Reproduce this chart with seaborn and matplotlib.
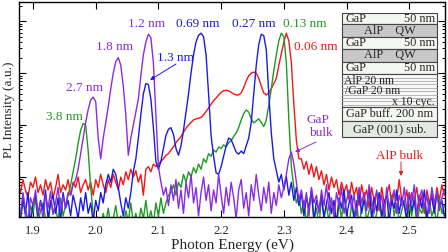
import numpy as np
import matplotlib
matplotlib.use("Agg")
import matplotlib.pyplot as plt
import seaborn as sns
from matplotlib.patches import Rectangle
from matplotlib.ticker import NullFormatter, LogLocator

# photon energy grid (eV), 4 meV steps
energy = np.round(1.876 + 0.004 * np.arange(171), 3)

# PL intensity, log10 (a.u.)
log_purple = [
    -0.45, -0.75, -0.30, -0.62, -0.85, -0.40, -0.55, -0.25, -0.70, -0.48,
    -0.80, -0.35, -0.60, -0.28, -0.72, -0.50, -0.20, -0.65, -0.38, -0.58,
    -0.30, -0.35, -0.15, -0.05, 0.15, 0.45, 0.75, 1.05, 1.30, 1.48,
    1.54, 1.45, 0.75, 0.35, 0.75, 1.05, 1.35, 1.70, 2.00, 2.22,
    2.30, 2.15, 1.75, 1.20, 0.42, 0.75, 1.00, 1.25, 1.50, 1.95,
    2.35, 2.60, 2.75, 2.68, 2.20, 1.20, 0.20, -0.10, -0.35, -0.20,
    -0.55, -0.15, -0.45, -0.05, -0.60, -0.25, -0.70, -0.10, -0.40, 0.05,
    -0.50, -0.20, -0.75, -0.30, 0.00, -0.45, -0.15, -0.65, -0.25, -0.50,
    0.05, -0.35, -0.70, -0.20, -0.55, -0.10, -0.40, -0.80, -0.25, -0.05,
    -0.60, -0.30, -0.75, -0.15, -0.45, 0.05, -0.35, -0.65, -0.20, -0.50,
    -0.10, -0.70, -0.30, -0.55, -0.15, -0.40, -0.20, 0.05, 0.35, 0.48,
    0.25, -0.10, -0.45, -0.25, -0.60, -0.30, -0.75, -0.20, -0.50, -0.35,
    -0.70, -0.25, -0.55, -0.15, -0.65, -0.40, -0.80, -0.30, -0.55, -0.20,
    -0.70, -0.45, -0.25, -0.60, -0.35, -0.75, -0.20, -0.50, -0.30, -0.65,
    -0.15, -0.45, -0.70, -0.25, -0.55, -0.35, -0.80, -0.20, -0.60, -0.40,
    -0.25, -0.70, -0.35, -0.55, -0.20, -0.65, -0.30, -0.50, -0.15, -0.75,
    -0.40, -0.25, -0.60, -0.35, -0.70, -0.20, -0.50, -0.30, -0.65, -0.40,
    -0.25,
]
log_blue = [
    -0.55, -0.85, -0.40, -0.70, -0.30, -0.90, -0.50, -0.35, -0.75, -0.45,
    -0.65, -0.25, -0.80, -0.50, -0.35, -0.70, -0.40, -0.85, -0.30, -0.60,
    -0.45, -0.75, -0.35, -0.55, -0.80, -0.40, -0.65, -0.30, -0.70, -0.50,
    -0.85, -0.45, -0.65, -0.30, -0.50, -0.15, 0.05, -0.10, 0.15, 0.05,
    -0.20, -0.50, -0.75, -0.40, -0.60, -0.30, 0.10, 0.35, 0.75, 1.20,
    1.60, 1.80, 1.78, 1.50, 0.95, 0.30, 0.15, 0.30, 0.55, 0.80,
    0.92, 0.95, 0.82, 0.55, 0.42, 0.60, 0.90, 1.25, 1.60, 2.00,
    2.35, 2.60, 2.73, 2.77, 2.70, 2.35, 1.60, 0.80, 0.40, 0.08,
    0.05, 0.20, 0.40, 0.60, 0.75, 0.72, 0.60, 0.48, 0.44, 0.50,
    0.45, 0.60, 0.75, 1.05, 1.60, 2.15, 2.55, 2.75, 2.72, 2.45,
    1.60, 0.85, 0.35, 0.12, -0.10, 0.05, -0.25, 0.00, -0.35, -0.10,
    -0.45, -0.20,
    -0.55, -0.30, -0.75, -0.40, -0.60, -0.25, -0.85, -0.45, -0.65, -0.35,
    -0.80, -0.50, -0.30, -0.70, -0.45, -0.90, -0.40, -0.60, -0.25, -0.75,
    -0.50, -0.35, -0.85, -0.55, -0.30, -0.70, -0.45, -0.60, -0.20, -0.80,
    -0.40, -0.65, -0.30, -0.75, -0.50, -0.35, -0.85, -0.45, -0.60, -0.25,
    -0.70, -0.40, -0.55, -0.80, -0.30, -0.65, -0.45, -0.75, -0.35, -0.60,
    -0.25, -0.80, -0.50, -0.40, -0.70, -0.30, -0.60, -0.45, -0.75,
]
log_green = [
    -0.60, -0.85, -0.45, -0.75, -0.95, -0.55, -0.70, -0.40, -0.90, -0.65,
    -0.50, -0.80, -0.95, -0.45, -0.70, -0.60, -0.85, -0.40, -0.75, -0.55,
    -0.35, -0.15, 0.10, 0.35, 0.65, 0.90, 1.03, 1.00, 0.50, -0.20,
    -0.70, -0.90,
    -0.85, -0.95, -0.70, -0.90, -0.60, -0.95, -0.80, -0.55, -0.90, -0.75,
    -0.95, -0.65, -0.85, -0.50, -0.90, -0.70, -0.95, -0.60, -0.80, -0.45,
    -0.85, -0.65, -0.90, -0.50, -0.75, -0.40, -0.70, -0.50, -0.35,
    -0.30, -0.15, -0.35, -0.10, -0.20, 0.05, -0.10, 0.10, 0.00, 0.18,
    0.08, 0.25, 0.15, 0.35, 0.28, 0.45, 0.40, 0.52, 0.48, 0.58,
    0.55, 0.62, 0.58, 0.66, 0.70, 0.78, 0.85, 0.95, 1.10, 1.22,
    1.29, 1.25, 1.12, 1.04, 1.08, 1.12, 1.05, 0.97, 1.10, 1.38,
    1.70, 2.05, 2.35, 2.62, 2.77, 2.70, 2.20, 1.10, 0.20, -0.20,
    -0.50,
    -0.35, -0.70, -0.45, -0.90, -0.55, -0.30, -0.80, -0.60, -0.95, -0.40,
    -0.75, -0.55, -0.85, -0.45, -0.65, -0.95, -0.50, -0.80, -0.35, -0.70,
    -0.90, -0.55, -0.75, -0.45, -0.95, -0.60, -0.40, -0.85, -0.65, -0.50,
    -0.90, -0.70, -0.45, -0.80, -0.55, -0.95, -0.60, -0.35, -0.75, -0.50,
    -0.85, -0.65, -0.45, -0.90, -0.55, -0.75, -0.40, -0.95, -0.60, -0.70,
    -0.50, -0.85, -0.45, -0.75, -0.60, -0.90, -0.40, -0.70, -0.55,
]
log_red = [
    -0.15, -0.30, -0.05, -0.25, -0.40, -0.10, -0.20, 0.00, -0.30, -0.15,
    -0.35, -0.05, -0.25, -0.10, -0.40, -0.20, 0.05, -0.30, -0.15, -0.25,
    -0.05, -0.35, -0.10, -0.20, 0.00, -0.30, -0.15, -0.05, -0.25, -0.10,
    -0.35, -0.05, -0.20, 0.05, -0.15, -0.30, -0.05, -0.20, 0.05, -0.10,
    -0.25, 0.00, -0.15, 0.10, -0.05, 0.15, 0.00, 0.12, -0.10, 0.05,
    -0.35, 0.15, 0.20, 0.10, 0.25,
    0.20, 0.25, 0.30, 0.35, 0.42, 0.45, 0.52, 0.58, 0.66, 0.72,
    0.78, 0.86, 0.94, 1.00, 1.05, 1.10, 1.12, 1.13, 1.15, 1.20,
    1.26, 1.33, 1.40, 1.47, 1.52, 1.58, 1.63, 1.66, 1.67, 1.66,
    1.63, 1.60, 1.58, 1.58, 1.62, 1.72, 1.85, 1.95, 2.00, 2.02,
    2.00, 1.90, 1.75, 1.62, 1.58, 1.62, 1.70, 1.80, 1.90, 2.15,
    2.38, 2.60, 2.77, 2.62, 2.20, 1.40, 0.70, 0.35,
    0.35, 0.15, 0.30, 0.05, 0.25, 0.00, 0.20, -0.05, 0.12, -0.15,
    0.05, -0.25, 0.00, -0.20, -0.05, -0.35, -0.10, -0.30, -0.15, -0.45,
    -0.10, -0.35, -0.20, -0.55, -0.15, -0.40, -0.25, -0.60, -0.20, -0.45,
    -0.30, -0.65, -0.20, -0.50, -0.35, -0.15, -0.55, -0.30, -0.45, -0.05,
    -0.45, -0.50, -0.25, -0.65, -0.30, -0.45, -0.20, -0.60, -0.35, -0.70,
    -0.25, -0.50, -0.30, -0.65, -0.20, -0.45, -0.15, -0.35,
]
for arr in (log_purple, log_blue, log_green, log_red):
    assert len(arr) == len(energy), len(arr)

x_ticks = [1.9, 2.0, 2.1, 2.2, 2.3, 2.4, 2.5]

PURPLE = "#8a2be2"
BLUE = "#1a1ae6"
GREEN = "#1e9a1e"
RED = "#f01818"

W, H = 448, 252


def fp(x, y):
    # figure pixel (top-left origin) -> figure fraction
    return x / W, 1 - y / H


sns.set_style("ticks")
plt.rcParams["font.family"] = ["Liberation Serif", "DejaVu Serif"]

fig = plt.figure(figsize=(W / 100, H / 100), dpi=100)
ax = fig.add_axes([19 / W, 1 - 217 / H, (445 - 19) / W, (217 - 2) / H])

for arr, col in ((log_red, RED), (log_green, GREEN), (log_blue, BLUE), (log_purple, PURPLE)):
    sns.lineplot(x=energy, y=10 ** np.array(arr), color=col, lw=1.0, ax=ax, legend=False)

ax.set_yscale("log")
ax.set_xlim(1.8777, 2.557)
ax.set_ylim(10 ** -0.77, 10 ** 3.37)
ax.set_xticks(x_ticks)
ax.set_xticklabels([f"{t:.1f}" for t in x_ticks], fontsize=9)
ax.yaxis.set_major_locator(LogLocator(base=10))
ax.yaxis.set_minor_locator(LogLocator(base=10, subs=np.arange(2, 10)))
ax.yaxis.set_major_formatter(NullFormatter())
ax.yaxis.set_minor_formatter(NullFormatter())
ax.tick_params(which="both", direction="in", top=True, right=True, color="black")
ax.tick_params(which="major", length=5, width=0.8, pad=6)
ax.tick_params(which="minor", length=2.5, width=0.7)
ax.xaxis.set_minor_locator(plt.NullLocator())
for s in ax.spines.values():
    s.set_linewidth(1.0)
    s.set_color("black")

ax.set_xlabel("Photon Energy (eV)", fontsize=11, labelpad=1)
ax.set_ylabel("PL Intensity (a.u.)", fontsize=9.5)
ax.yaxis.set_label_coords((15 - 19) / 426, 0.5)

# peak labels
labels = [
    ("3.8 nm", GREEN, 64, 117), ("2.7 nm", PURPLE, 84, 88), ("1.8 nm", PURPLE, 115, 47),
    ("1.2 nm", PURPLE, 147, 24), ("1.3 nm", BLUE, 175, 58), ("0.69 nm", BLUE, 198, 24),
    ("0.27 nm", BLUE, 254, 24), ("0.13 nm", GREEN, 305, 24), ("0.06 nm", RED, 316, 47),
    ("GaP", PURPLE, 318, 120), ("bulk", PURPLE, 321, 133), ("AlP bulk", RED, 400, 156),
]
for s, c, x, y in labels:
    fig.text(*fp(x, y), s, color=c, fontsize=9.5, ha="center", va="center")

arrows = [((176, 64), (150, 80), BLUE), ((316, 142), (295, 152), PURPLE), ((401, 162), (401, 176), RED)]
for start, end, c in arrows:
    ax.annotate("", xy=fp(*end), xytext=fp(*start), xycoords="figure fraction",
                textcoords="figure fraction",
                arrowprops=dict(arrowstyle="-|>", color=c, lw=0.7, mutation_scale=6,
                                shrinkA=0, shrinkB=0))

# layer structure sketch
bx0, bx1 = 342, 437
rows = [
    (13, 24, "#f3f6f1", ("GaP", "50 nm")),
    (24, 37, "#c8c8c8", "AlP    QW"),
    (37, 49, "#f3f6f1", ("GaP", "50 nm")),
    (49, 62, "#c8c8c8", "AlP    QW"),
    (62, 74, "#f3f6f1", ("GaP", "50 nm")),
    (74, 107, "#f7f7f7", None),
    (107, 121, "#f3f6f1", "GaP buff. 200 nm"),
    (121, 137, "#e4e8e2", "GaP (001) sub."),
]
for y0, y1, fc, txt in rows:
    fig.add_artist(Rectangle(fp(bx0, y1), (bx1 - bx0) / W, (y1 - y0) / H,
                             transform=fig.transFigure, facecolor=fc,
                             edgecolor="#444444", lw=0.8, zorder=5))
    ym = (y0 + y1) / 2
    if isinstance(txt, tuple):
        fig.text(*fp(bx0 + 3, ym), txt[0], fontsize=8.8, ha="left", va="center", zorder=6)
        fig.text(*fp(bx1 - 2, ym), txt[1], fontsize=8.8, ha="right", va="center", zorder=6)
    elif txt:
        fig.text(*fp((bx0 + bx1) / 2, ym), txt, fontsize=8.8, ha="center", va="center", zorder=6)

for k in range(9):
    yy = 77.5 + 3.4 * k
    fig.add_artist(plt.Line2D([bx0 / W, bx1 / W], [1 - yy / H] * 2, transform=fig.transFigure,
                              color="#aaaaaa", lw=0.6, zorder=5.5))
fig.text(*fp(bx0 + 2, 80.5), "AlP 20 nm", fontsize=8.4, ha="left", va="center", zorder=6)
fig.text(*fp(bx0 + 3, 91.5), "/GaP 20 nm", fontsize=8.4, ha="left", va="center", zorder=6)
fig.text(*fp(bx1 - 2, 101.5), "x 10 cyc.", fontsize=8.4, ha="right", va="center", zorder=6)

fig.savefig("out.png", dpi=100)
